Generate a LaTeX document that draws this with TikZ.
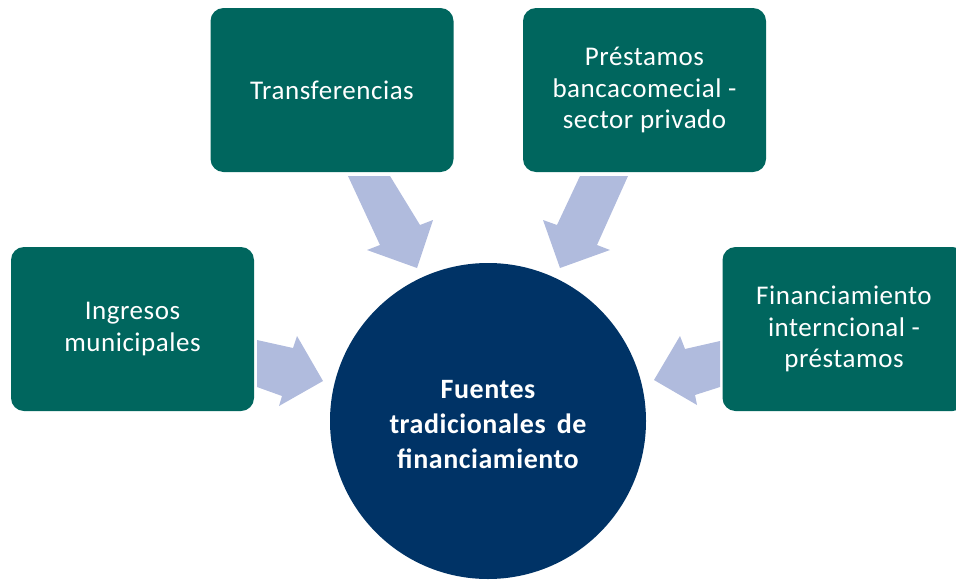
\documentclass[tikz,border=0pt]{standalone}
\usepackage{fontspec}
\setmainfont{Carlito}[LetterSpace=2]
\definecolor{boxteal}{RGB}{0,102,94}
\definecolor{circnavy}{RGB}{0,51,102}
\definecolor{arrowblue}{RGB}{176,187,221}
\begin{document}
\begin{tikzpicture}[x=1pt,y=-1pt,
  srcbox/.style={rectangle, rounded corners=13pt, fill=boxteal, text=white,
    minimum width=243pt, minimum height=164pt, inner sep=0pt, align=center,
    font=\fontsize{27}{31.5}\selectfont},
  hubnode/.style={circle, fill=circnavy, minimum size=316pt, inner sep=0pt},
  hublabel/.style={text=white, inner sep=0pt, align=center,
    font=\bfseries\fontsize{28}{35}\selectfont},
  bigarrow/.style={fill=arrowblue}]
\useasboundingbox (0,0) rectangle (956,584);
\clip (0,0) rectangle (956,584);

% arrows
\fill[bigarrow] (257,340) -- (293,348) -- (297,336) -- (323,381) -- (279,406) -- (282,396) -- (257,387) -- cycle;
\fill[bigarrow] (720,341) -- (685,349) -- (680,336) -- (654,380) -- (697,405) -- (695,395) -- (720,387) -- cycle;
\fill[bigarrow] (348,176) -- (380,245) -- (367,250) -- (417,268) -- (433,220) -- (420,225) -- (390,176) -- cycle;
\fill[bigarrow] (628,176) -- (597,245) -- (610,250) -- (560,268) -- (543,220) -- (557,225) -- (580,176) -- cycle;

% boxes
\node[srcbox] (transf) at (332,90) {Transferencias};
\node[srcbox] (prest) at (644.5,90) {Préstamos\\bancacomecial -\\sector privado};
\node[srcbox] (ingr) at (132.5,329) {Ingresos\\municipales};
\node[srcbox] (finan) at (844,329) {Financiamiento\\interncional -\\préstamos};

% hub
\node[hubnode] (hub) at (488,421) {};
\node[hublabel] (hubtext) at (488,425) {Fuentes\\tradicionales\hspace{0.4em}de\\financiamiento};
\end{tikzpicture}
\end{document}
